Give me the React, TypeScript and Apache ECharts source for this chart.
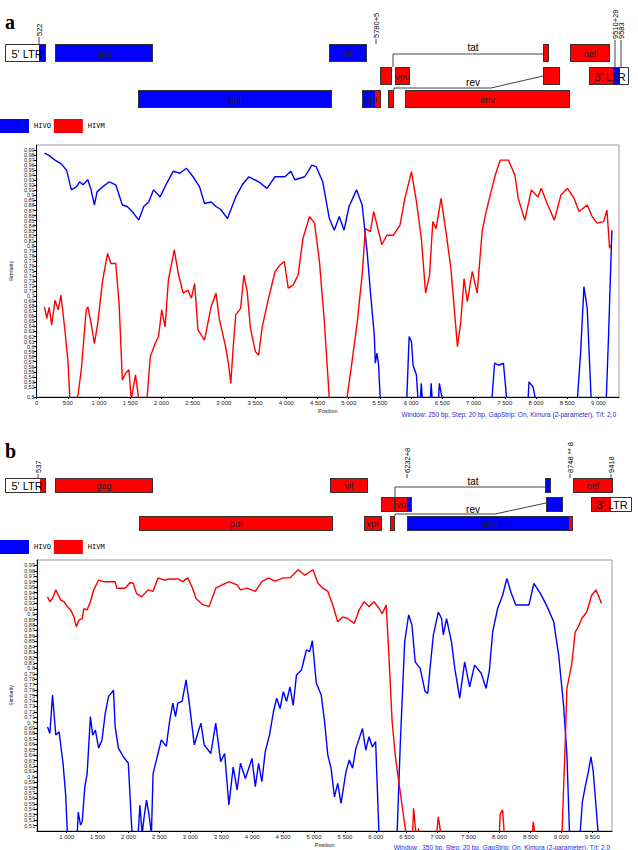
import React, { useEffect, useRef } from "react";
import * as echarts from "echarts";

// ---------- DATA ----------
const seriesNames = ["HIVO", "HIVM"];
const xTicksA = [0, 500, 1000, 1500, 2000, 2500, 3000, 3500, 4000, 4500, 5000, 5500, 6000, 6500, 7000, 7500, 8000, 8500, 9000];
const xTicksB = [1000, 1500, 2000, 2500, 3000, 3500, 4000, 4500, 5000, 5500, 6000, 6500, 7000, 7500, 8000, 8500, 9000, 9500];
const subtitleA = "Window: 250 bp, Step: 20 bp, GapStrip: On, Kimura (2-parameter), T/t: 2,0";
const subtitleB = "Window : 350 bp, Step: 20 bp, GapStrip: On, Kimura (2-parameter), T/t: 2,0";
const markersA = ["522", "5780+5", "9510+29", "9583"];
const markersB = ["537", "6232+8", "8748 ** 8", "9418"];

const aHIVO: [number, number][] = [
  [126, 0.984], [190, 0.98], [295, 0.97], [400, 0.962], [480, 0.95], [557, 0.911], [637, 0.917], [690, 0.927], [742, 0.921],
  [821, 0.931], [873, 0.911], [926, 0.881], [968, 0.907], [1058, 0.917], [1163, 0.927], [1268, 0.921], [1374, 0.881],
  [1452, 0.878], [1531, 0.868], [1637, 0.851], [1716, 0.878], [1795, 0.887], [1874, 0.911], [1979, 0.897], [2084, 0.924],
  [2190, 0.948], [2295, 0.944], [2400, 0.954], [2506, 0.937], [2611, 0.917], [2690, 0.884], [2795, 0.887], [2874, 0.878],
  [2950, 0.872], [3058, 0.854], [3190, 0.897], [3295, 0.921], [3400, 0.937], [3558, 0.927], [3690, 0.914], [3821, 0.937],
  [3979, 0.937], [4074, 0.948], [4137, 0.931], [4295, 0.937], [4410, 0.96], [4479, 0.957], [4584, 0.927], [4690, 0.854],
  [4769, 0.831], [4848, 0.858], [4926, 0.831], [5005, 0.878], [5126, 0.911], [5215, 0.881], [5295, 0.788], [5347, 0.709],
  [5410, 0.623], [5426, 0.567], [5453, 0.587], [5479, 0.563], [5505, 0.495], [5720, 0.4], [5930, 0.495], [5968, 0.62],
  [6005, 0.61], [6031, 0.563], [6084, 0.544], [6110, 0.495], [6140, 0.48], [6163, 0.527], [6185, 0.48], [6300, 0.48],
  [6321, 0.527], [6345, 0.48], [6430, 0.48], [6453, 0.527], [6500, 0.495], [6900, 0.4], [7294, 0.495], [7337, 0.567],
  [7400, 0.563], [7479, 0.567], [7531, 0.495], [7700, 0.42], [7873, 0.495], [7889, 0.53], [7952, 0.52], [7994, 0.495],
  [8330, 0.4], [8663, 0.495], [8716, 0.59], [8768, 0.719], [8821, 0.676], [8884, 0.495], [9000, 0.44], [9126, 0.495],
  [9163, 0.623], [9216, 0.831]
];

const aHIVM: [number, number][] = [
  [126, 0.679], [163, 0.656], [200, 0.678], [242, 0.643], [295, 0.692], [347, 0.673], [390, 0.702], [453, 0.633], [505, 0.567],
  [532, 0.495], [585, 0.44], [637, 0.495], [663, 0.504], [716, 0.554], [795, 0.673], [821, 0.679], [873, 0.646], [926, 0.606],
  [979, 0.646], [1058, 0.732], [1137, 0.785], [1189, 0.765], [1268, 0.765], [1321, 0.686], [1374, 0.534], [1426, 0.547],
  [1479, 0.554], [1516, 0.495], [1584, 0.544], [1637, 0.495], [1700, 0.44], [1768, 0.495], [1821, 0.58], [1900, 0.606],
  [1953, 0.62], [2005, 0.673], [2058, 0.639], [2111, 0.732], [2206, 0.792], [2269, 0.745], [2348, 0.706], [2427, 0.712],
  [2479, 0.696], [2532, 0.725], [2585, 0.633], [2690, 0.613], [2795, 0.679], [2874, 0.706], [2926, 0.656], [3032, 0.597],
  [3080, 0.56], [3111, 0.527], [3150, 0.6], [3190, 0.663], [3268, 0.676], [3321, 0.742], [3374, 0.709], [3426, 0.636],
  [3505, 0.59], [3558, 0.583], [3610, 0.636], [3716, 0.696], [3821, 0.749], [3900, 0.762], [3968, 0.769], [4031, 0.716],
  [4110, 0.722], [4189, 0.742], [4268, 0.815], [4373, 0.858], [4452, 0.845], [4531, 0.769], [4610, 0.649], [4690, 0.495],
  [4830, 0.42], [4968, 0.495], [5031, 0.55], [5137, 0.649], [5215, 0.742], [5268, 0.834], [5347, 0.828], [5400, 0.868],
  [5453, 0.841], [5531, 0.802], [5610, 0.821], [5716, 0.821], [5821, 0.841], [5900, 0.894], [6005, 0.947], [6084, 0.888],
  [6163, 0.815], [6232, 0.706], [6295, 0.742], [6347, 0.848], [6400, 0.834], [6479, 0.894], [6558, 0.828], [6637, 0.755],
  [6742, 0.6], [6795, 0.649], [6847, 0.735], [6900, 0.689], [6979, 0.749], [7058, 0.706], [7137, 0.828], [7189, 0.861],
  [7242, 0.888], [7347, 0.94], [7426, 0.97], [7558, 0.97], [7663, 0.94], [7716, 0.894], [7821, 0.851], [7926, 0.911],
  [8031, 0.897], [8084, 0.914], [8189, 0.881], [8295, 0.851], [8400, 0.901], [8505, 0.914], [8610, 0.894], [8690, 0.868],
  [8821, 0.881], [8900, 0.858], [8979, 0.845], [9084, 0.848], [9137, 0.871], [9179, 0.795], [9205, 0.802]
];

const bHIVO: [number, number][] = [
  [691, 0.692], [728, 0.68], [771, 0.751], [824, 0.677], [877, 0.683], [941, 0.625], [984, 0.566], [1011, 0.495], [1090, 0.44],
  [1171, 0.495], [1187, 0.535], [1224, 0.511], [1251, 0.517], [1293, 0.581], [1331, 0.606], [1384, 0.711], [1421, 0.677],
  [1464, 0.686], [1517, 0.653], [1571, 0.668], [1624, 0.717], [1677, 0.748], [1757, 0.76], [1784, 0.692], [1837, 0.653],
  [1917, 0.637], [1997, 0.625], [2051, 0.508], [2100, 0.45], [2157, 0.495], [2184, 0.548], [2221, 0.495], [2253, 0.526],
  [2291, 0.557], [2328, 0.533], [2371, 0.495], [2397, 0.606], [2477, 0.643], [2531, 0.668], [2611, 0.656], [2664, 0.702],
  [2717, 0.736], [2760, 0.711], [2797, 0.736], [2867, 0.739], [2931, 0.779], [2984, 0.735], [3064, 0.659], [3171, 0.699],
  [3224, 0.659], [3331, 0.643], [3411, 0.699], [3491, 0.628], [3555, 0.643], [3624, 0.548], [3693, 0.618], [3757, 0.576],
  [3811, 0.625], [3891, 0.597], [3997, 0.634], [4051, 0.582], [4104, 0.625], [4157, 0.591], [4211, 0.646], [4280, 0.677],
  [4344, 0.72], [4397, 0.745], [4451, 0.726], [4504, 0.757], [4557, 0.739], [4611, 0.766], [4664, 0.732], [4717, 0.788],
  [4797, 0.797], [4877, 0.834], [4931, 0.831], [4973, 0.851], [5037, 0.773], [5117, 0.751], [5171, 0.702], [5224, 0.64],
  [5277, 0.615], [5331, 0.563], [5384, 0.588], [5437, 0.551], [5517, 0.609], [5571, 0.631], [5624, 0.616], [5677, 0.652],
  [5784, 0.689], [5837, 0.649], [5891, 0.674], [5944, 0.655], [5997, 0.665], [6051, 0.495], [6200, 0.42], [6344, 0.495],
  [6397, 0.665], [6467, 0.849], [6531, 0.899], [6584, 0.88], [6637, 0.812], [6717, 0.8], [6797, 0.757], [6840, 0.754],
  [6877, 0.8], [6931, 0.862], [7011, 0.904], [7064, 0.892], [7091, 0.862], [7144, 0.892], [7224, 0.849], [7277, 0.8],
  [7357, 0.745], [7437, 0.812], [7517, 0.766], [7597, 0.806], [7704, 0.791], [7784, 0.763], [7837, 0.797], [7891, 0.868],
  [7971, 0.911], [8051, 0.935], [8120, 0.966], [8184, 0.941], [8264, 0.917], [8371, 0.917], [8477, 0.917], [8557, 0.957],
  [8664, 0.938], [8771, 0.914], [8877, 0.886], [8957, 0.825], [9037, 0.732], [9091, 0.64], [9133, 0.495], [9220, 0.44],
  [9304, 0.495], [9341, 0.554], [9384, 0.58], [9437, 0.609], [9480, 0.637], [9517, 0.609], [9597, 0.495]
];

const bHIVM: [number, number][] = [
  [691, 0.932], [728, 0.923], [771, 0.929], [824, 0.945], [904, 0.926], [957, 0.923], [1011, 0.914], [1064, 0.908], [1117, 0.895],
  [1155, 0.877], [1197, 0.889], [1251, 0.892], [1277, 0.91], [1331, 0.908], [1384, 0.923], [1437, 0.945], [1517, 0.963],
  [1597, 0.96], [1784, 0.96], [1811, 0.948], [1944, 0.948], [2024, 0.958], [2077, 0.957], [2131, 0.938], [2211, 0.932],
  [2317, 0.945], [2397, 0.942], [2477, 0.967], [2584, 0.963], [2664, 0.965], [2797, 0.965], [2877, 0.96], [2957, 0.967],
  [3037, 0.948], [3091, 0.929], [3197, 0.918], [3304, 0.914], [3411, 0.948], [3517, 0.954], [3624, 0.96], [3757, 0.954],
  [3811, 0.945], [3917, 0.948], [4051, 0.942], [4157, 0.96], [4264, 0.967], [4371, 0.961], [4504, 0.967], [4611, 0.967],
  [4744, 0.982], [4851, 0.972], [4984, 0.982], [5064, 0.957], [5144, 0.948], [5224, 0.942], [5304, 0.917], [5384, 0.886],
  [5464, 0.895], [5544, 0.892], [5651, 0.883], [5731, 0.908], [5811, 0.923], [5891, 0.914], [5971, 0.923], [6051, 0.911],
  [6104, 0.901], [6168, 0.917], [6211, 0.825], [6264, 0.702], [6317, 0.637], [6371, 0.591], [6424, 0.548], [6488, 0.495],
  [6560, 0.47], [6595, 0.495], [6611, 0.542], [6648, 0.495], [6670, 0.48], [6691, 0.505], [6710, 0.48], [6900, 0.42],
  [6984, 0.495], [7011, 0.526], [7051, 0.495], [7500, 0.4], [7997, 0.495], [8013, 0.532], [8051, 0.539], [8077, 0.495],
  [8300, 0.44], [8531, 0.495], [8547, 0.517], [8571, 0.495], [8800, 0.44], [9011, 0.495], [9064, 0.665], [9091, 0.763],
  [9171, 0.809], [9224, 0.867], [9277, 0.877], [9331, 0.892], [9411, 0.904], [9491, 0.935], [9560, 0.945], [9651, 0.92]
];

// ---------- STYLE / LAYOUT ----------
const BLUE = "#0000ff";
const RED = "#ff0000";
const WHITE = "#ffffff";
const FONT = "Liberation Sans";

type Seg = [number, number, string];
type Box = { x0: number; x1: number; row: number; segs: Seg[]; label?: string; lx?: number; big?: boolean };

const mapA = { rows: [44, 67, 90], h: 18 };
const boxesA: Box[] = [
  { x0: 5, x1: 46, row: 0, segs: [[5, 39, WHITE], [39, 46, BLUE]], label: "5' LTR", lx: 27, big: true },
  { x0: 55, x1: 153, row: 0, segs: [[55, 153, BLUE]], label: "gag" },
  { x0: 329, x1: 367, row: 0, segs: [[329, 367, BLUE]], label: "vif" },
  { x0: 543, x1: 549, row: 0, segs: [[543, 549, RED]] },
  { x0: 570, x1: 610, row: 0, segs: [[570, 610, RED]], label: "nef" },
  { x0: 380, x1: 392, row: 1, segs: [[380, 392, RED]] },
  { x0: 395, x1: 410, row: 1, segs: [[395, 410, RED]], label: "vpu" },
  { x0: 543, x1: 560, row: 1, segs: [[543, 560, RED]] },
  { x0: 589, x1: 629, row: 1, segs: [[589, 613, RED], [613, 620, BLUE], [620, 629, WHITE]], label: "3' LTR", lx: 610, big: true },
  { x0: 138, x1: 332, row: 2, segs: [[138, 332, BLUE]], label: "pol" },
  { x0: 362, x1: 381, row: 2, segs: [[362, 375, BLUE], [375, 381, RED]], label: "vpr" },
  { x0: 388, x1: 394, row: 2, segs: [[388, 394, RED]] },
  { x0: 405, x1: 570, row: 2, segs: [[405, 570, RED]], label: "env" }
];

const mapB = { rows: [478, 497, 516], h: 15 };
const boxesB: Box[] = [
  { x0: 5, x1: 46, row: 0, segs: [[5, 40, WHITE], [40, 46, RED]], label: "5' LTR", lx: 27, big: true },
  { x0: 55, x1: 153, row: 0, segs: [[55, 153, RED]], label: "gag" },
  { x0: 330, x1: 368, row: 0, segs: [[330, 368, RED]], label: "vif" },
  { x0: 545, x1: 551, row: 0, segs: [[545, 551, BLUE]] },
  { x0: 573, x1: 613, row: 0, segs: [[573, 613, RED]], label: "nef" },
  { x0: 381, x1: 395, row: 1, segs: [[381, 395, RED]] },
  { x0: 395, x1: 412, row: 1, segs: [[395, 407, RED], [407, 412, BLUE]], label: "vpu" },
  { x0: 546, x1: 563, row: 1, segs: [[546, 563, BLUE]] },
  { x0: 591, x1: 632, row: 1, segs: [[591, 611, RED], [611, 632, WHITE]], label: "3' LTR", lx: 612, big: true },
  { x0: 139, x1: 333, row: 2, segs: [[139, 333, RED]], label: "pol" },
  { x0: 364, x1: 382, row: 2, segs: [[364, 382, RED]], label: "vpr" },
  { x0: 390, x1: 395, row: 2, segs: [[390, 395, RED]] },
  { x0: 407, x1: 573, row: 2, segs: [[407, 569, BLUE], [569, 573, RED]], label: "env" }
];

function boxEls(boxes: Box[], map: { rows: number[]; h: number }) {
  const els: any[] = [];
  boxes.forEach((b) => {
    const y = map.rows[b.row];
    b.segs.forEach(([s0, s1, c]) => {
      els.push({ type: "rect", shape: { x: s0, y, width: s1 - s0, height: map.h }, style: { fill: c } });
    });
    els.push({
      type: "rect",
      shape: { x: b.x0 + 0.5, y: y + 0.5, width: b.x1 - b.x0 - 1, height: map.h - 1 },
      style: { fill: "none", stroke: "#333", lineWidth: 1 }
    });
    if (b.label) {
      els.push({
        type: "text",
        x: b.lx ?? (b.x0 + b.x1) / 2,
        y: y + map.h / 2 + 0.5,
        style: {
          text: b.label,
          fontSize: b.big ? 11 : 9,
          fontFamily: FONT,
          fill: b.big ? "#000" : "#222",
          align: "center",
          verticalAlign: "middle"
        }
      });
    }
  });
  return els;
}

function lineEl(x1: number, y1: number, x2: number, y2: number) {
  return { type: "line", shape: { x1, y1, x2, y2 }, style: { stroke: "#444", lineWidth: 1 } };
}

function marker(text: string, x: number, yTop: number, boxTop: number) {
  return [
    lineEl(x, yTop, x, boxTop),
    {
      type: "text",
      x,
      y: yTop - 1,
      rotation: Math.PI / 2,
      style: { text, fontSize: 7.5, fontFamily: FONT, fill: "#000", align: "left", verticalAlign: "middle" }
    }
  ];
}

function plainText(text: string, x: number, y: number, size: number, extra: any = {}) {
  return {
    type: "text",
    x,
    y,
    style: { text, fontSize: size, fontFamily: FONT, fill: "#000", align: "center", verticalAlign: "middle", ...extra }
  };
}

const fmtY = (v: number) => {
  const r = Math.round(v * 100) / 100;
  return r === 1 ? "1,0" : String(r).replace(".", ",");
};
const fmtX = (v: number) =>
  v >= 1000 ? `${Math.floor(v / 1000)} ${String(v % 1000).padStart(3, "0")}` : String(v);

function xAxis(grid: number, min: number, max: number, ticks: number[]) {
  return {
    type: "value",
    gridIndex: grid,
    min,
    max,
    axisLine: { show: true, lineStyle: { color: "#000", width: 1 } },
    axisTick: { show: true, customValues: ticks, length: 2, lineStyle: { color: "#000" } },
    axisLabel: { customValues: ticks, formatter: fmtX, fontSize: 6, fontFamily: FONT, color: "#222", margin: 3 },
    splitLine: { show: false },
    name: "Position",
    nameLocation: "middle",
    nameGap: 11,
    nameTextStyle: { fontSize: 5.5, fontFamily: FONT, color: "#222" }
  };
}

function yAxis(grid: number, showMin: boolean, nameGap: number) {
  return {
    type: "value",
    gridIndex: grid,
    min: 0.5,
    max: 1,
    interval: 0.01,
    axisLine: { show: true, lineStyle: { color: "#000", width: 1 } },
    axisTick: { show: true, length: 3, lineStyle: { color: "#000" } },
    axisLabel: { formatter: fmtY, fontSize: 5.5, fontFamily: FONT, color: "#222", margin: 2, showMinLabel: showMin },
    splitLine: { show: false },
    name: "Similarity",
    nameLocation: "middle",
    nameRotate: 90,
    nameGap,
    nameTextStyle: { fontSize: 5, fontFamily: FONT, color: "#222" }
  };
}

function lineSeries(name: string, data: [number, number][], idx: number, color: string) {
  return {
    type: "line",
    name,
    data,
    xAxisIndex: idx,
    yAxisIndex: idx,
    symbol: "none",
    clip: true,
    lineStyle: { color, width: 1.4 },
    itemStyle: { color },
    z: color === RED ? 3 : 2
  };
}

export default function App() {
  const ref = useRef<HTMLDivElement>(null);
  useEffect(() => {
    if (!ref.current) return;
    const chart = echarts.init(ref.current, null, { renderer: "svg" });

    const graphics: any[] = [
      plainText("a", 5, 22, 20, { fontFamily: "Liberation Serif", fontWeight: "bold", align: "left" }),
      plainText("b", 5, 451, 20, { fontFamily: "Liberation Serif", fontWeight: "bold", align: "left" }),
      // panel a map
      ...boxEls(boxesA, mapA),
      lineEl(393, 67, 393, 54), lineEl(393, 54, 543, 54),
      lineEl(394, 90, 394, 88), lineEl(394, 88, 491, 88), lineEl(491, 88, 543, 76),
      plainText("tat", 473, 47, 10),
      plainText("rev", 473, 82, 10),
      ...marker(markersA[0], 39, 37, 44),
      ...marker(markersA[1], 376, 39, 44),
      ...marker(markersA[2], 615, 40, 67),
      ...marker(markersA[3], 621, 40, 67),
      // panel b map
      ...boxEls(boxesB, mapB),
      lineEl(395, 497, 395, 487), lineEl(395, 487, 545, 487),
      lineEl(395, 516, 395, 514), lineEl(395, 514, 495, 514), lineEl(495, 514, 546, 503),
      plainText("tat", 473, 481, 10),
      plainText("rev", 473, 509, 10),
      ...marker(markersB[0], 38, 474, 478),
      ...marker(markersB[1], 407, 474, 478),
      ...marker(markersB[2], 570, 474, 478),
      ...marker(markersB[3], 611, 474, 478),
      // subtitles
      plainText(subtitleA, 616, 414, 6.5, { align: "right", fill: "#2a2ad0" }),
      plainText(subtitleB, 610, 847, 6.5, { align: "right", fill: "#2a2ad0" })
    ];

    const legendBase = {
      data: seriesNames,
      left: 0,
      padding: 0,
      itemWidth: 29,
      itemHeight: 14,
      itemGap: 3,
      icon: "rect",
      selectedMode: false,
      textStyle: { fontSize: 7, fontFamily: "DejaVu Sans Mono", color: "#000" }
    };

    chart.setOption({
      animation: false,
      backgroundColor: "#fff",
      legend: [
        { ...legendBase, top: 119 },
        { ...legendBase, top: 540 }
      ],
      grid: [
        { left: 28, top: 145, width: 591, height: 252, show: true, borderColor: "#999", borderWidth: 1 },
        { left: 31, top: 560, width: 581, height: 271, show: true, borderColor: "#999", borderWidth: 1 }
      ],
      xAxis: [xAxis(0, 0, 9330, xTicksA), xAxis(1, 520, 9820, xTicksB)],
      yAxis: [yAxis(0, true, 20), yAxis(1, false, 24)],
      series: [
        lineSeries(seriesNames[0], aHIVO, 0, BLUE),
        lineSeries(seriesNames[1], aHIVM, 0, RED),
        lineSeries(seriesNames[0], bHIVO, 1, BLUE),
        lineSeries(seriesNames[1], bHIVM, 1, RED)
      ],
      graphic: { elements: graphics }
    });
    return () => chart.dispose();
  }, []);
  return <div ref={ref} style={{ position: "absolute", left: 0, top: 0, width: 638, height: 850 }} />;
}
